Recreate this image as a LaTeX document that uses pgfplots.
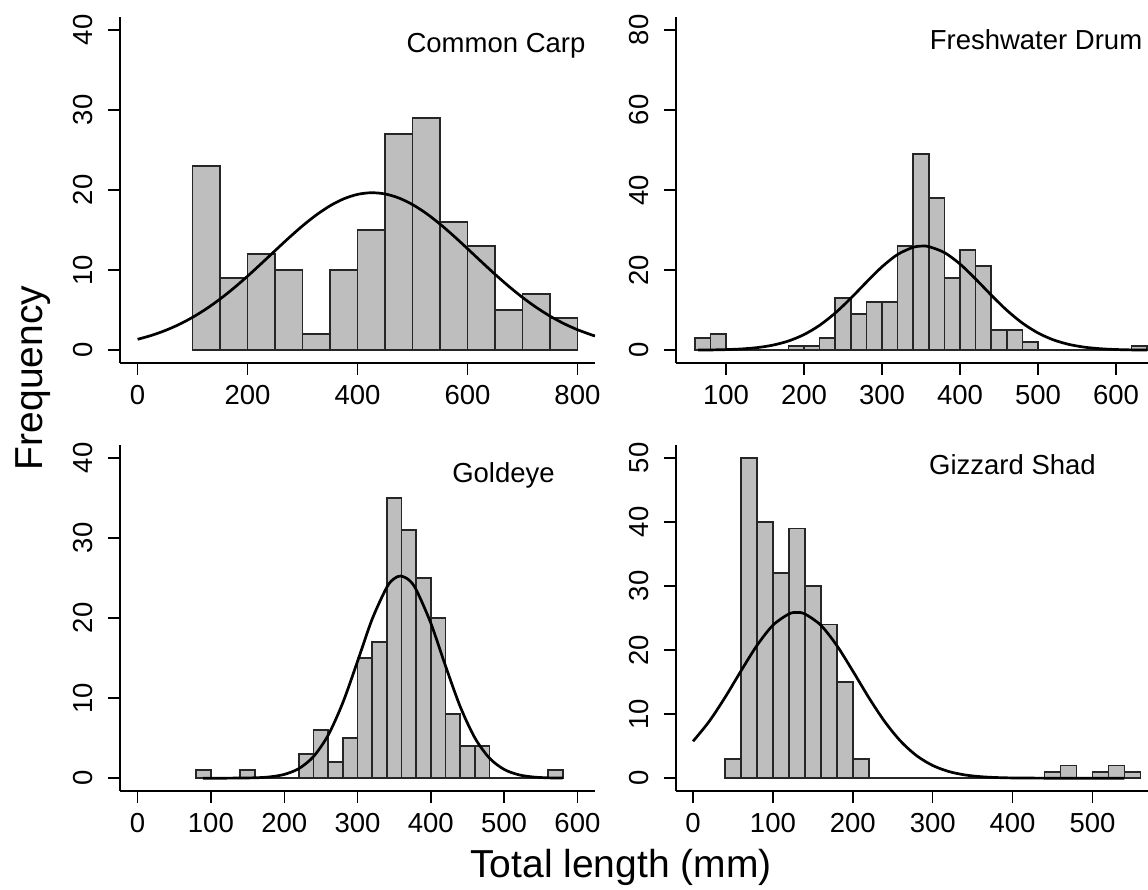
\documentclass[border=0pt]{standalone}
\usepackage{pgfplots}
\pgfplotsset{compat=1.18}
\usepackage{fontspec}
\setmainfont{Liberation Sans}

\definecolor{barfill}{HTML}{BEBEBE}
\definecolor{baredge}{HTML}{262626}

\pgfplotsset{
  panel/.style={
    scale only axis,
    anchor=south west,
    height=173pt,
    axis lines*=left,
    axis line style={-, line width=0.7pt, black},
    tick align=outside,
    major tick length=6pt,
    tick style={line width=0.7pt, black},
    xtick pos=bottom, ytick pos=left,
    /pgf/number format/assume math mode=true,
    /pgf/number format/1000 sep={},
    tick label style={font=\fontsize{13.75}{16}\selectfont, inner sep=0pt},
    xticklabel style={anchor=north, yshift=-5pt},
    yticklabel style={rotate=90, anchor=south, yshift=7.5pt},
  },
  hist/.style={ybar interval, fill=barfill, draw=baredge, line width=0.75pt},
  fit/.style={black, line width=1.35pt, smooth, no markers},
}

\begin{document}
\begin{tikzpicture}
\useasboundingbox (0pt,0pt) rectangle (574pt,445pt);

% Common Carp
\begin{axis}[panel, at={(60pt,263.5pt)}, width=237.5pt,
  xmin=-32, xmax=832, ymin=-1.6, ymax=41.6,
  xtick={0,200,400,600,800}, ytick={0,10,20,30,40}]
\addplot[hist] coordinates {
  (100,23) (150,9) (200,12) (250,10) (300,2) (350,10) (400,15)
  (450,27) (500,29) (550,16) (600,13) (650,5) (700,7) (750,4) (800,0)};
\addplot[fit] coordinates {
  (0,1.359) (25,1.841) (50,2.449) (75,3.198) (100,4.102) (125,5.165)
  (150,6.385) (175,7.751) (200,9.239) (225,10.811) (250,12.421)
  (275,14.013) (300,15.522) (325,16.879) (350,18.024) (375,18.896)
  (400,19.451) (425,19.659) (450,19.508) (475,19.007) (500,18.183)
  (525,17.079) (550,15.751) (575,14.261) (600,12.679) (625,11.068)
  (650,9.485) (675,7.982) (700,6.595) (725,5.350) (750,4.261)
  (775,3.332) (800,2.558) (825,1.929) (832,1.776)};
\end{axis}

% Freshwater Drum
\begin{axis}[panel, at={(338pt,263.5pt)}, width=236pt,
  xmin=35.9, xmax=641, ymin=-3.2, ymax=83.2,
  xtick={100,200,300,400,500,600}, ytick={0,20,40,60,80}]
\addplot[hist] coordinates {
  (60,3) (80,4) (100,0) (120,0) (140,0) (160,0) (180,1) (200,1) (220,3)
  (240,13) (260,9) (280,12) (300,12) (320,26) (340,49) (360,38) (380,18)
  (400,25) (420,21) (440,5) (460,5) (480,2) (500,0) (520,0) (540,0)
  (560,0) (580,0) (600,0) (620,1) (640,0)};
\addplot[fit] coordinates {
  (64,0.028) (80,0.059) (100,0.141) (120,0.312) (140,0.647) (160,1.257)
  (180,2.286) (200,3.894) (220,6.210) (240,9.274) (260,12.968)
  (280,16.980) (300,20.819) (320,23.902) (340,25.694) (352,26.0)
  (360,25.864) (380,24.378) (400,21.515) (420,17.780) (440,13.759)
  (460,9.969) (480,6.765) (500,4.298) (520,2.557) (540,1.424) (560,0.743)
  (580,0.363) (600,0.166) (620,0.071) (640,0.028)};
\end{axis}

% Goldeye
\begin{axis}[panel, at={(60pt,49.5pt)}, width=237.5pt,
  xmin=-24, xmax=624, ymin=-1.6, ymax=41.6,
  xtick={0,100,200,300,400,500,600}, ytick={0,10,20,30,40}]
\addplot[hist] coordinates {
  (80,1) (100,0) (120,0) (140,1) (160,0) (180,0) (200,0) (220,3) (240,6)
  (260,2) (280,5) (300,15) (320,17) (340,35) (360,31) (380,25) (400,20)
  (420,8) (440,4) (460,4) (480,0) (500,0) (520,0) (540,0) (560,1) (580,0)};
\addplot[fit] coordinates {
  (89,0.0) (120,0.003) (160,0.049) (180,0.161) (200,0.468) (220,1.198)
  (240,2.703) (260,5.378) (280,9.430) (300,14.575) (320,19.856)
  (340,23.843) (350,24.92) (359,25.24) (370,24.76) (380,23.544)
  (400,19.361) (420,14.034) (440,8.966) (460,5.049) (480,2.507)
  (500,1.096) (520,0.423) (540,0.144) (560,0.043) (580,0.011)};
\end{axis}

% Gizzard Shad
\begin{axis}[panel, at={(338pt,49.5pt)}, width=236pt,
  xmin=-21.3, xmax=569.5, ymin=-2, ymax=52,
  xtick={0,100,200,300,400,500}, ytick={0,10,20,30,40,50}]
\addplot[hist] coordinates {
  (40,3) (60,50) (80,40) (100,32) (120,39) (140,30) (160,24) (180,15)
  (200,3) (220,0) (240,0) (260,0) (280,0) (300,0) (320,0) (340,0) (360,0)
  (380,0) (400,0) (420,0) (440,1) (460,2) (480,0) (500,1) (520,2) (540,1)
  (560,0)};
\addplot[fit] coordinates {
  (0,5.756) (20,8.821) (40,12.587) (60,16.729) (80,20.707) (100,23.872)
  (120,25.631) (130,25.86) (140,25.631) (160,23.872) (180,20.707)
  (200,16.729) (220,12.587) (240,8.821) (260,5.756) (280,3.500)
  (300,1.981) (320,1.045) (340,0.513) (360,0.235) (380,0.100)
  (400,0.040) (440,0.005) (480,0.0) (540,0.0)};
\end{axis}

\node[anchor=base, font=\fontsize{13.75}{16}\selectfont] at (248pt,418.5pt) {Common Carp};
\node[anchor=base, font=\fontsize{13.75}{16}\selectfont] at (518pt,420pt) {Freshwater Drum};
\node[anchor=base, font=\fontsize{13.75}{16}\selectfont] at (251.75pt,203.5pt) {Goldeye};
\node[anchor=base, font=\fontsize{13.75}{16}\selectfont] at (506.25pt,207.5pt) {Gizzard Shad};

\node[anchor=base, font=\fontsize{19.5}{22}\selectfont] at (310.5pt,6pt) {Total length (mm)};
\node[anchor=base, rotate=90, font=\fontsize{19.5}{22}\selectfont] at (21.5pt,256pt) {Frequency};
\end{tikzpicture}
\end{document}
